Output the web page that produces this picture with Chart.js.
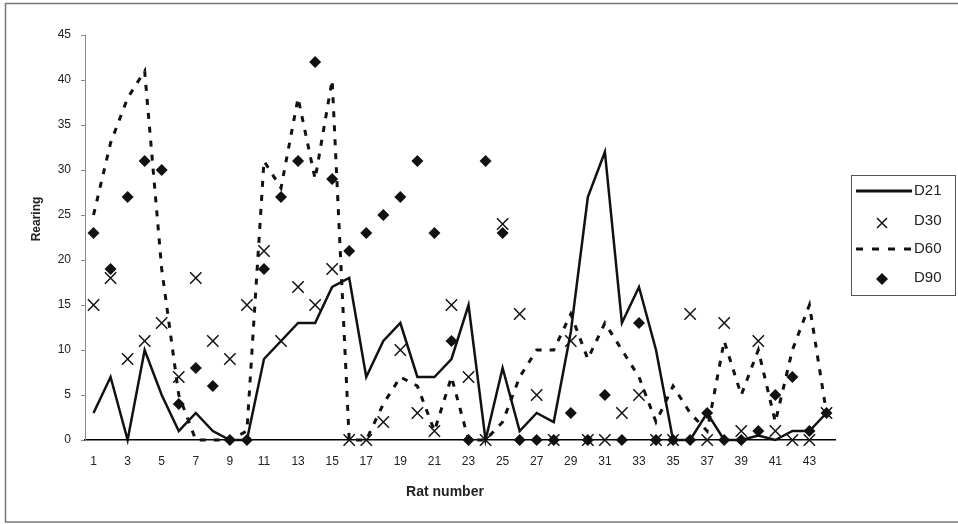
<!DOCTYPE html>
<html>
<head>
<meta charset="utf-8">
<title>Rearing by rat number</title>
<script src="https://cdn.jsdelivr.net/npm/chart.js@4"></script>
<style>
  html, body { margin: 0; padding: 0; background: #fff; }
  #chart { display: block; }
</style>
</head>
<body>
<canvas id="chart" width="958" height="524"></canvas>
<script>
// Rat numbers on the x axis
const ratNumbers = ['1', '2', '3', '4', '5', '6', '7', '8', '9', '10', '11', '12', '13', '14', '15',
    '16', '17', '18', '19', '20', '21', '22', '23', '24', '25', '26', '27', '28', '29', '30',
    '31', '32', '33', '34', '35', '36', '37', '38', '39', '40', '41', '42', '43', '44'];

// Rearing counts per rat
const d21 = [3, 7, 0, 10, 5, 1, 3, 1, 0, 0, 9, 11, 13, 13, 17, 18, 7, 11, 13, 7, 7, 9,
    15, 0, 8, 1, 3, 2, 12, 27, 32, 13, 17, 10, 0, 0, 3, 0, 0, 0.5, 0, 1, 1, 3];
const d30 = [15, 18, 9, 11, 13, 7, 18, 11, 9, 15, 21, 11, 17, 15, 19, 0, 0, 2, 10, 3, 1, 15,
    7, 0, 24, 14, 5, 0, 11, 0, 0, 3, 5, 0, 0, 14, 0, 13, 1, 11, 1, 0, 0, 3];
const d60 = [25, 33, 38, 41, 19, 5, 0, 0, 0, 1, 31, 28, 38, 29, 40, 0, 0, 4, 7, 6, 1, 7,
    0, 0, 2, 7, 10, 10, 14, 9, 13, 10, 7, 2, 6, 3, 1, 11, 5, 10, 2, 10, 15, 3];
const d90 = [23, 19, 27, 31, 30, 4, 8, 6, 0, 0, 19, 27, 31, 42, 29, 21, 23, 25, 27, 31, 23, 11,
    0, 31, 23, 0, 0, 0, 3, 0, 5, 0, 13, 0, 0, 0, 3, 0, 0, 1, 5, 7, 1, 3];

const yTicks = [0, 5, 10, 15, 20, 25, 30, 35, 40, 45];

const ink = '#111';
const textColor = '#222';

// legend, axis titles and the outer frame, drawn like the Excel original
const decorPlugin = {
    id: 'decor',
    afterDraw(chart) {
        const ctx = chart.ctx;
        const area = chart.chartArea;
        ctx.save();

        // outer frame
        ctx.strokeStyle = '#777';
        ctx.lineWidth = 1.5;
        ctx.beginPath();
        ctx.moveTo(960, 3.5);
        ctx.lineTo(5.5, 3.5);
        ctx.lineTo(5.5, 522);
        ctx.lineTo(960, 522);
        ctx.stroke();

        // axis titles
        ctx.fillStyle = textColor;
        ctx.font = 'bold 14px Arial, "Liberation Sans", sans-serif';
        ctx.textAlign = 'center';
        ctx.textBaseline = 'middle';
        ctx.fillText('Rat number', 445, 492);

        ctx.save();
        ctx.translate(37, 219);
        ctx.rotate(-Math.PI / 2);
        ctx.font = 'bold 12px Arial, "Liberation Sans", sans-serif';
        ctx.fillText('Rearing', 0, 0);
        ctx.restore();

        // legend box
        ctx.strokeStyle = '#555';
        ctx.lineWidth = 1;
        ctx.strokeRect(851.5, 175.5, 104, 120);

        ctx.strokeStyle = ink;
        ctx.fillStyle = ink;

        // D21 solid line
        ctx.lineWidth = 3;
        ctx.beginPath();
        ctx.moveTo(856, 191);
        ctx.lineTo(912, 191);
        ctx.stroke();

        // D30 cross
        ctx.lineWidth = 1.5;
        ctx.beginPath();
        ctx.moveTo(877, 218);
        ctx.lineTo(887, 228);
        ctx.moveTo(887, 218);
        ctx.lineTo(877, 228);
        ctx.stroke();

        // D60 dashed line
        ctx.lineWidth = 3;
        ctx.setLineDash([7, 9]);
        ctx.beginPath();
        ctx.moveTo(856, 249);
        ctx.lineTo(912, 249);
        ctx.stroke();
        ctx.setLineDash([]);

        // D90 diamond
        ctx.beginPath();
        ctx.moveTo(882, 273);
        ctx.lineTo(888, 279);
        ctx.lineTo(882, 285);
        ctx.lineTo(876, 279);
        ctx.closePath();
        ctx.fill();

        ctx.fillStyle = textColor;
        ctx.font = '15px Arial, "Liberation Sans", sans-serif';
        ctx.textAlign = 'left';
        ctx.fillText('D21', 914, 191);
        ctx.fillText('D30', 914, 221);
        ctx.fillText('D60', 914, 249);
        ctx.fillText('D90', 914, 278);

        ctx.restore();
    }
};

const ctx = document.getElementById('chart').getContext('2d');

new Chart(ctx, {
    type: 'line',
    data: {
        labels: ratNumbers,
        datasets: [
            {
                label: 'D21',
                data: d21,
                borderColor: ink,
                borderWidth: 2.5,
                pointRadius: 0,
                tension: 0,
                clip: false
            },
            {
                label: 'D30',
                data: d30,
                showLine: false,
                pointStyle: 'crossRot',
                pointRadius: 8,
                pointBorderWidth: 1.5,
                borderColor: ink,
                backgroundColor: ink,
                clip: false
            },
            {
                label: 'D60',
                data: d60,
                borderColor: ink,
                borderWidth: 3,
                borderDash: [6, 8],
                pointRadius: 0,
                tension: 0,
                clip: false
            },
            {
                label: 'D90',
                data: d90,
                showLine: false,
                pointStyle: 'rectRot',
                pointRadius: 6,
                pointBorderWidth: 0,
                borderColor: ink,
                backgroundColor: ink,
                clip: false
            }
        ]
    },
    options: {
        responsive: false,
        animation: false,
        devicePixelRatio: 1,
        layout: {
            padding: { left: 20, right: 123, top: 35, bottom: 14 }
        },
        plugins: {
            legend: { display: false },
            tooltip: { enabled: false }
        },
        scales: {
            x: {
                type: 'category',
                offset: true,
                afterFit(scale) { scale.height = 70; },
                grid: { display: false, drawTicks: false, tickLength: 0 },
                border: { display: true, color: '#000', width: 1.5 },
                ticks: {
                    autoSkip: false,
                    maxRotation: 0,
                    padding: 14,
                    color: textColor,
                    font: { family: 'Arial, "Liberation Sans", sans-serif', size: 12 },
                    callback: function(value, index) {
                        return index % 2 === 0 ? ratNumbers[index] : '';
                    }
                }
            },
            y: {
                min: yTicks[0],
                max: yTicks[yTicks.length - 1],
                afterFit(scale) { scale.width = 65; },
                afterBuildTicks(scale) {
                    scale.ticks = yTicks.map(v => ({ value: v }));
                },
                grid: {
                    display: true,
                    drawOnChartArea: false,
                    drawTicks: true,
                    tickLength: 4,
                    color: '#888'
                },
                border: { display: true, color: '#888', width: 1 },
                ticks: {
                    padding: 10,
                    color: textColor,
                    font: { family: 'Arial, "Liberation Sans", sans-serif', size: 12 }
                }
            }
        }
    },
    plugins: [decorPlugin]
});
</script>
</body>
</html>
